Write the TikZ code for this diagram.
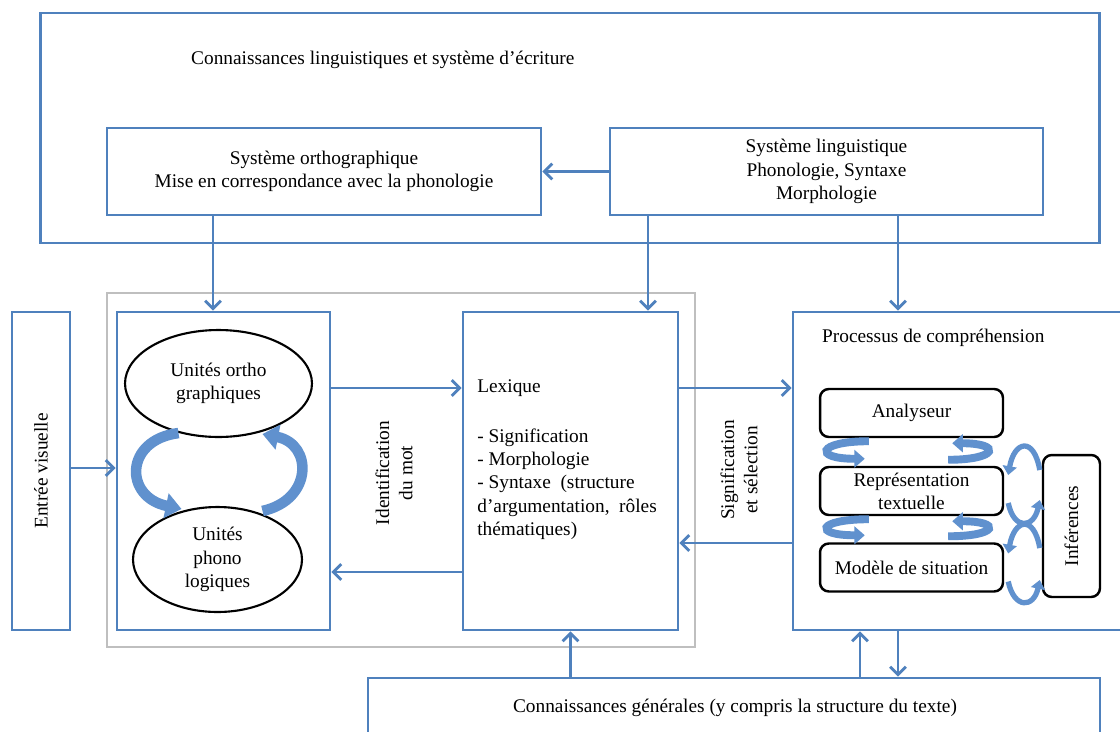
\documentclass[tikz,border=0pt]{standalone}
\usepackage{fontspec}
\setmainfont{Liberation Serif}
\usetikzlibrary{arrows.meta,positioning,calc,shapes.geometric}
\definecolor{bleu}{RGB}{79,129,189}
\definecolor{bleuclair}{RGB}{96,145,206}
\definecolor{gris}{RGB}{191,191,191}

\begin{document}
\begin{tikzpicture}[x=0.02cm,y=-0.02cm,
	font=\fontsize{11}{13.2}\selectfont,
	cadre/.style={draw=bleu,line width=1.6pt,fill=white,inner sep=0pt},
	boite/.style={draw=black,line width=1.4pt,rounded corners=5pt,fill=white,minimum width=3.66cm,minimum height=0.96cm,align=center,inner sep=0pt},
	bulle/.style={ellipse,draw=black,line width=1.2pt,fill=white,align=center,inner sep=0pt},
	fleche/.style={draw=bleu,line width=1.6pt,-{Straight Barb[length=4.5pt,width=9pt]}},
	boucle/.style={draw=bleuclair,line width=6pt,-{Triangle[length=9pt,width=14pt]}},
	petite/.style={draw=bleuclair,line width=4.5pt,-{Triangle[length=6pt,width=10pt]}},
	arche/.style={draw=bleuclair,line width=3pt,-{Triangle[length=5pt,width=8pt]}}]
	\useasboundingbox (0,0) rectangle (1120,731);
	\clip (0,0) rectangle (1120,731);
	\fill[white] (0,0) rectangle (1120,731);

	\node[cadre,minimum width=21.2cm,minimum height=4.6cm] (langue) at (570,128) {};
	\node[anchor=west] (titre) at (185,60) {Connaissances linguistiques et système d’écriture};
	\node[cadre,minimum width=8.68cm,minimum height=1.74cm,align=center] (ortho) at (324,171.5) {Système orthographique\\Mise en correspondance avec la phonologie};
	\node[cadre,minimum width=8.66cm,minimum height=1.74cm,align=center] (systeme) at (826.5,171.5) {Système linguistique\\Phonologie, Syntaxe\\Morphologie};

	\node[draw=gris,line width=1.5pt,minimum width=11.76cm,minimum height=7.08cm] (lecture) at (401,470) {};
	\node[cadre,minimum width=1.16cm,minimum height=6.36cm] (entree) at (41,471) {};
	\node[rotate=90] (entreeTxt) at (entree) {Entrée visuelle};
	\node[cadre,minimum width=4.26cm,minimum height=6.36cm] (unites) at (223.5,471) {};
	\node[cadre,minimum width=4.3cm,minimum height=6.36cm] (lexique) at (570.5,471) {};
	\node[cadre,minimum width=6.74cm,minimum height=6.36cm] (processus) at (961.5,471) {};
	\node[cadre,minimum width=14.64cm,minimum height=1.8cm] (generales) at (734,723) {};
	\node (generalesTxt) at (735,708) {Connaissances générales (y compris la structure du texte)};

	\node[bulle,minimum width=3.74cm,minimum height=2.14cm] (uortho) at (218.5,383.5) {Unités ortho\\graphiques};
	\node[bulle,minimum width=3.38cm,minimum height=2.1cm] (uphono) at (217.5,559.5) {Unités\\phono\\logiques};
	\draw[boucle] ($(uortho.south)+(-40,-5)$) .. controls (124,440) and (124,497) .. ($(uphono.north)+(-36,3)$);
	\draw[boucle] ($(uphono.north)+(45,5)$) .. controls (313,500) and (313,444) .. ($(uortho.south)+(44,-4)$);

	\node[rotate=90,align=center] (identTxt) at (394,473) {Identification\\du mot};
	\node[rotate=90,align=center] (signifTxt) at (739,470) {Signification\\et sélection};
	\node[anchor=north west,align=left,inner sep=0pt] (lexiqueTxt) at (477,379) {Lexique\\[15.5pt]- Signification\\- Morphologie\\- Syntaxe~ (structure\\d’argumentation,~ rôles\\thématiques)};

	\node[anchor=west] (processusTxt) at (816,338) {Processus de compréhension};
	\node[boite] (analyseur) at (911.5,413) {Analyseur};
	\node[boite] (representation) at (911.5,491) {Représentation\\textuelle};
	\node[boite] (modele) at (911.5,567.5) {Modèle de situation};
	\node[boite,minimum width=1.14cm,minimum height=2.84cm] (inferences) at (1071.5,526) {};
	\node[rotate=90] (inferencesTxt) at (inferences) {Inférences};

	\draw[petite] ($(analyseur.south west)+(50,3)$) .. controls +(-52,0) and +(-52,0) .. ($(representation.north west)+(46,-7)$);
	\draw[petite] ($(representation.north east)+(-56,-6)$) .. controls +(50,0) and +(50,0) .. ($(analyseur.south east)+(-52,5)$);
	\draw[petite] ($(representation.south west)+(50,3)$) .. controls +(-52,0) and +(-52,0) .. ($(modele.north west)+(46,-7)$);
	\draw[petite] ($(modele.north east)+(-56,-6)$) .. controls +(50,0) and +(50,0) .. ($(representation.south east)+(-52,5)$);

	\draw[arche] ($(inferences.west)+(-2,-56)$) .. controls +(-6,-34) and +(6,-34) .. ($(representation.east)+(4,-16)$);
	\draw[arche] ($(representation.east)+(4,12)$) .. controls +(6,28) and +(-6,28) .. ($(inferences.west)+(-2,-26)$);
	\draw[arche] ($(inferences.west)+(-2,22)$) .. controls +(-6,-34) and +(6,-34) .. ($(modele.east)+(4,-14)$);
	\draw[arche] ($(modele.east)+(4,14)$) .. controls +(6,28) and +(-6,28) .. ($(inferences.west)+(-2,54)$);

	\coordinate (haut) at (0,388);
	\coordinate (bas) at (0,572);
	\coordinate (milieu) at (0,468);
	\coordinate (retour) at (0,543);
	\coordinate (colOrtho) at (213,0);
	\coordinate (colLex) at (648,0);
	\coordinate (colProc) at (898,0);
	\coordinate (colGen) at (860,0);

	\draw[fleche] (systeme) -- (ortho);
	\draw[fleche] (ortho.south -| colOrtho) -- (unites.north -| colOrtho);
	\draw[fleche] (systeme.south -| colLex) -- (lexique.north -| colLex);
	\draw[fleche] (systeme.south -| colProc) -- (processus.north -| colProc);
	\draw[fleche] (entree.east |- milieu) -- (unites.west |- milieu);
	\draw[fleche] (unites.east |- haut) -- (lexique.west |- haut);
	\draw[fleche] (lexique.west |- bas) -- (unites.east |- bas);
	\draw[fleche] (lexique.east |- haut) -- (processus.west |- haut);
	\draw[fleche] (processus.west |- retour) -- (lexique.east |- retour);
	\draw[fleche] (generales.north -| lexique) -- (lexique.south);
	\draw[fleche] (generales.north -| colGen) -- (processus.south -| colGen);
	\draw[fleche] (processus.south -| colProc) -- (generales.north -| colProc);
\end{tikzpicture}
\end{document}
